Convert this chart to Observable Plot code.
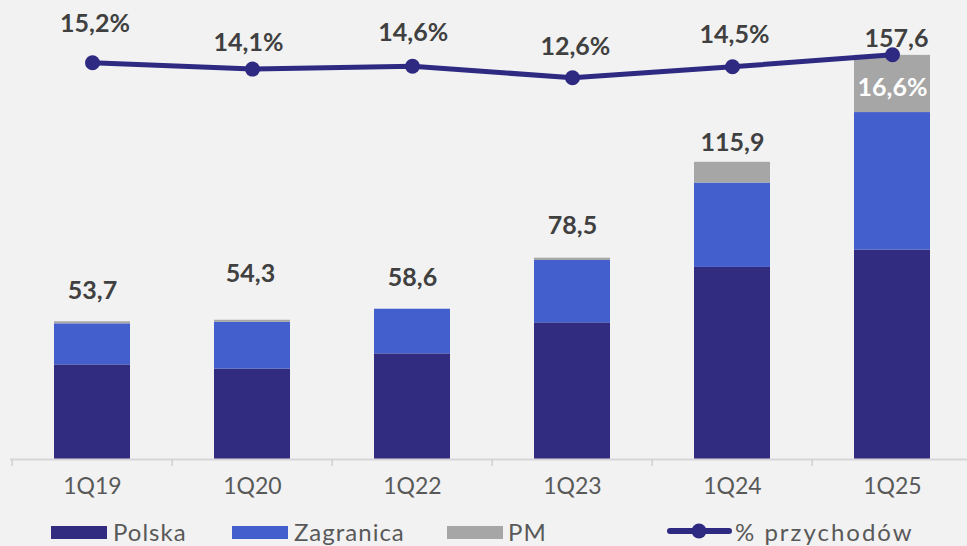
<!DOCTYPE html>
<html><head><meta charset="utf-8">
<script src="https://cdn.jsdelivr.net/npm/d3@7"></script>
<script src="https://cdn.jsdelivr.net/npm/@observablehq/plot@0.6"></script>
<style>
html,body{margin:0;padding:0;background:#f2f2f2;}
body{width:967px;height:546px;overflow:hidden;font-family:Lato,"Open Sans",sans-serif;}
#chart svg{display:block;background:#f2f2f2;}
#legend{position:relative;width:967px;height:36px;}
#legend .sw{position:absolute;top:16px;width:56px;height:13px;}
#legend .lb{position:absolute;top:10px;font-size:24px;line-height:1;color:#595959;white-space:nowrap;letter-spacing:1px;}
#legend svg{position:absolute;left:660px;top:8px;}
</style></head><body>
<div id="chart"></div>
<div id="legend"></div>
<script>
// ---- data ----
const categories = ["1Q19", "1Q20", "1Q22", "1Q23", "1Q24", "1Q25"];
const polska     = [36.9, 35.3, 41.2, 53.3, 74.9, 81.7];
const zagranica  = [16.0, 18.2, 17.4, 24.3, 32.9, 53.6];
const pm         = [0.8, 0.8, 0.0, 0.9, 8.1, 22.3];
const totals     = [53.7, 54.3, 58.6, 78.5, 115.9, 157.6];
const sharePct   = [15.2, 14.1, 14.6, 12.6, 14.5, 16.6];
const seriesNames = ["Polska", "Zagranica", "PM"];
const lineName = "% przychodów";

// ---- layout / style config ----
const colors = {Polska: "#312c7f", Zagranica: "#435fcd", PM: "#a6a6a6"};
const lineColor = "#2e2a82";
const textDark = "#404040";
const axisGray = "#595959";
const yMax = 179;               // primary axis top
const pctDomain = [-53.6, 26];  // secondary (percent) axis mapped onto [0, yMax]
const xRange = [9.7, 973.6];
const step = (xRange[1] - xRange[0]) / categories.length;
// manual label nudges (pixels)
const totalDy = [-31, -46, -31.5, -32.7, -19.5, -16.6];
const totalDx = [0, -2, 0, 0, 0, 4];
const pctDy = [-38.8, -26.5, -33.4, -30.6, -32, 33];
const pctDx = [2.5, -4, 0.7, 2.8, 2, 0];
const pctInside = [false, false, false, false, false, true];

const fmt = v => v.toFixed(1).replace(".", ",");
const pctScale = d3.scaleLinear().domain(pctDomain).range([0, yMax]);

const rows = [];
categories.forEach((c, i) => {
  rows.push({cat: c, series: "Polska", value: polska[i]});
  rows.push({cat: c, series: "Zagranica", value: zagranica[i]});
  rows.push({cat: c, series: "PM", value: pm[i]});
});
const lineRows = categories.map((c, i) => ({cat: c, pct: sharePct[i]}));

const marks = [
  Plot.barY(rows, {x: "cat", y: "value", fill: "series"}),
  Plot.ruleY([0], {stroke: "#d6d6d6", strokeWidth: 1.8}),
  Plot.axisX({ticks: categories, tickSize: 7, tickFormat: () => "", label: null, dx: -step / 2, stroke: "#d0d0d0", strokeWidth: 1.5}),
  Plot.axisX({tickSize: 0, tickPadding: 18, label: null, fontSize: 23, fill: axisGray, fontFamily: "Lato", letterSpacing: "0.3px"}),
  Plot.line(lineRows, {x: "cat", y: d => pctScale(d.pct), stroke: lineColor, strokeWidth: 5}),
  Plot.dot(lineRows, {x: "cat", y: d => pctScale(d.pct), r: 7.5, fill: lineColor})
];
categories.forEach((c, i) => {
  marks.push(Plot.text([i], {x: () => c, y: () => totals[i], text: () => fmt(totals[i]),
    dy: totalDy[i], dx: totalDx[i], fontSize: 25, fontWeight: 700, fill: textDark, fontFamily: "Lato"}));
  marks.push(Plot.text([i], {x: () => c, y: () => pctScale(sharePct[i]), text: () => fmt(sharePct[i]) + "%",
    dy: pctDy[i], dx: pctDx[i], fontSize: 25, fontWeight: 700, fill: pctInside[i] ? "#ffffff" : textDark, fontFamily: "Lato"}));
});

const chart = Plot.plot({
  width: 967,
  height: 510,
  marginTop: 0,
  marginBottom: 51,
  marginLeft: 10,
  marginRight: 0,
  style: {background: "#f2f2f2", fontFamily: "Lato"},
  x: {domain: categories, range: xRange, paddingInner: 0.525, paddingOuter: 0.2625, align: 0.5, axis: null, label: null},
  y: {domain: [0, yMax], axis: null, label: null},
  color: {domain: seriesNames, range: seriesNames.map(s => colors[s])},
  marks
});
document.getElementById("chart").appendChild(chart);

// ---- legend ----
const legend = document.getElementById("legend");
const swLeft = {Polska: 51, Zagranica: 232, PM: 447};
const lbLeft = {Polska: 113, Zagranica: 294, PM: 508};
seriesNames.forEach(s => {
  const sw = document.createElement("div");
  sw.className = "sw"; sw.style.left = swLeft[s] + "px"; sw.style.background = colors[s];
  legend.appendChild(sw);
  const lb = document.createElement("div");
  lb.className = "lb"; lb.style.left = lbLeft[s] + "px"; lb.textContent = s;
  legend.appendChild(lb);
});
const ls = d3.create("svg").attr("width", 75).attr("height", 26);
ls.append("line").attr("x1", 10).attr("x2", 69).attr("y1", 13).attr("y2", 13)
  .attr("stroke", lineColor).attr("stroke-width", 6).attr("stroke-linecap", "round");
ls.append("circle").attr("cx", 39).attr("cy", 13).attr("r", 7.5).attr("fill", lineColor);
legend.appendChild(ls.node());
const ll = document.createElement("div");
ll.className = "lb"; ll.style.left = "735px"; ll.style.letterSpacing = "2px"; ll.textContent = lineName;
legend.appendChild(ll);
</script>
</body></html>
